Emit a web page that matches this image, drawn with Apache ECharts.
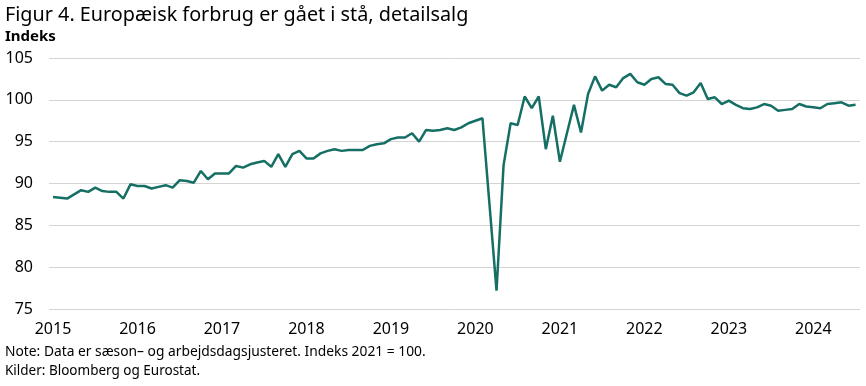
<!DOCTYPE html>
<html>
<head>
<meta charset="utf-8">
<script src="https://cdn.jsdelivr.net/npm/echarts@6/dist/echarts.min.js"></script>
<style>
html,body{margin:0;padding:0;background:#fff;}
#c{width:866px;height:386px;}
</style>
</head>
<body>
<div id="c"></div>
<script>
// Monthly index values, Jan 2015 .. Jul 2024 (2021 = 100)
const values2015 = [88.4, 88.3, 88.2, 88.7, 89.2, 89.0, 89.5, 89.1, 89.0, 89.0, 88.2, 89.9];
const values2016 = [89.7, 89.7, 89.4, 89.6, 89.8, 89.5, 90.4, 90.3, 90.1, 91.5, 90.5, 91.2];
const values2017 = [91.2, 91.2, 92.1, 91.9, 92.3, 92.5, 92.7, 92.0, 93.5, 92.0, 93.5, 93.9];
const values2018 = [93.0, 93.0, 93.6, 93.9, 94.1, 93.9, 94.0, 94.0, 94.0, 94.5, 94.7, 94.8];
const values2019 = [95.3, 95.5, 95.5, 96.0, 95.0, 96.4, 96.3, 96.4, 96.6, 96.4, 96.7, 97.2];
const values2020 = [97.5, 97.8, 87.5, 77.2, 92.2, 97.2, 97.0, 100.4, 99.0, 100.4, 94.1, 98.1];
const values2021 = [92.6, 96.0, 99.4, 96.1, 100.7, 102.8, 101.1, 101.8, 101.5, 102.6, 103.1, 102.1];
const values2022 = [101.8, 102.5, 102.7, 101.9, 101.8, 100.8, 100.5, 100.9, 102.0, 100.1, 100.3, 99.5];
const values2023 = [99.9, 99.4, 99.0, 98.9, 99.1, 99.5, 99.3, 98.7, 98.8, 98.9, 99.5, 99.2];
const values2024 = [99.1, 99.0, 99.5, 99.6, 99.7, 99.3, 99.4];

const yearLabels = ['2015','2016','2017','2018','2019','2020','2021','2022','2023','2024'];
const yTicks = [75, 80, 85, 90, 95, 100, 105];

const allValues = [].concat(values2015, values2016, values2017, values2018, values2019,
  values2020, values2021, values2022, values2023, values2024);
const seriesData = allValues.map((v, i) => [i, v]);
const labelPositions = yearLabels.map((y, k) => k * 12);

const FONT = 'Noto Sans';
const chart = echarts.init(document.getElementById('c'), null, {renderer: 'canvas'});
chart.setOption({
  animation: false,
  backgroundColor: '#ffffff',
  textStyle: {fontFamily: FONT},
  title: [
    {text: 'Figur 4. Europæisk forbrug er gået i stå, detailsalg', left: 0, top: 0,
     textStyle: {fontFamily: FONT, fontSize: 19.8, fontWeight: 'normal', color: '#000'}},
    {text: 'Indeks', left: 0, top: 24,
     textStyle: {fontFamily: FONT, fontSize: 15, fontWeight: 'bold', color: '#000'}},
    {text: 'Note: Data er sæson– og arbejdsdagsjusteret. Indeks 2021 = 100.', left: 0, top: 340,
     textStyle: {fontFamily: FONT, fontSize: 13.8, fontWeight: 'normal', color: '#000'}},
    {text: 'Kilder: Bloomberg og Eurostat.', left: 0, top: 359,
     textStyle: {fontFamily: FONT, fontSize: 13.5, fontWeight: 'normal', color: '#000'}}
  ],
  grid: {left: 49, right: 6, top: 58, bottom: 77, containLabel: false},
  xAxis: {
    type: 'value',
    min: -0.57,
    max: 114.63,
    axisLine: {show: false},
    axisTick: {show: false},
    splitLine: {show: false},
    axisLabel: {
      customValues: labelPositions,
      formatter: v => yearLabels[Math.round(v / 12)],
      fontFamily: FONT, fontSize: 16, color: '#000', margin: 12
    }
  },
  yAxis: {
    type: 'value',
    min: 75, max: 105, interval: 5,
    axisLine: {show: false},
    axisTick: {show: false},
    splitLine: {lineStyle: {color: '#d4d4d4', width: 1}},
    axisLabel: {fontFamily: FONT, fontSize: 16, color: '#000', margin: 16}
  },
  series: [{
    type: 'line',
    data: seriesData,
    showSymbol: false,
    lineStyle: {color: '#156f64', width: 2.5},
    itemStyle: {color: '#156f64'}
  }]
});
</script>
</body>
</html>
